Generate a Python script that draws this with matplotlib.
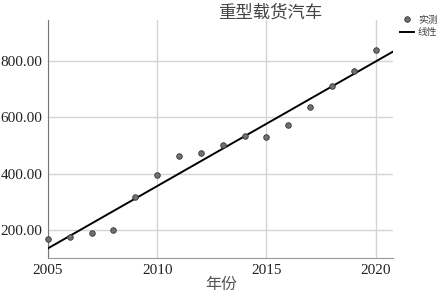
import numpy as np
import matplotlib.pyplot as plt
from matplotlib.lines import Line2D

years = [2005, 2006, 2007, 2008, 2009, 2010, 2011, 2012, 2013, 2014, 2015, 2016, 2017, 2018, 2019, 2020]
values = [168, 175, 189, 200, 317, 395, 462, 472, 501, 533, 530, 571, 635, 710, 763, 840]
xticks = [2005, 2010, 2015, 2020]
yticks = [200, 400, 600, 800]

cjk = ['Noto Sans CJK SC', 'DejaVu Sans']
serif = 'Liberation Serif'

fig = plt.figure(figsize=(4.39, 2.96), dpi=100)
ax = fig.add_axes([0.1093, 0.128, 0.786, 0.804])

x = np.array(years, dtype=float)
y = np.array(values, dtype=float)
k, b = np.polyfit(x, y, 1)
xl = np.array([2004.5, 2021.0])
ax.plot(xl, k * xl + b, color='black', lw=1.4, zorder=3)
ax.scatter(x, y, s=16, color='#707070', edgecolor='#333333', linewidth=0.6, zorder=4, clip_on=False)

ax.set_xlim(2005, 2020.8)
ax.set_ylim(100, 945)
ax.set_xticks(xticks)
ax.set_yticks(yticks)
ax.set_yticklabels(['%.2f' % v for v in yticks])
for lab in ax.get_xticklabels() + ax.get_yticklabels():
    lab.set_fontfamily(serif)
    lab.set_fontsize(11)
    lab.set_color('#222222')
ax.tick_params(length=0, pad=4)
ax.grid(True, color='#d4d4d4', lw=1.0)
ax.set_axisbelow(True)
for s in ['top', 'right']:
    ax.spines[s].set_visible(False)
ax.spines['left'].set_color('#777777')
ax.spines['bottom'].set_color('#999999')

fig.text(0.615, 0.958, '重型载货汽车', family=cjk, fontsize=12.5, color='#444444', ha='center', va='center')
fig.text(0.503, 0.04, '年份', family=cjk, fontsize=11.5, color='#555555', ha='center', va='center')

handles = [Line2D([], [], ls='none', marker='o', markersize=4, markerfacecolor='#707070', markeredgecolor='#333333', markeredgewidth=0.6),
           Line2D([], [], color='black', lw=1.4)]
leg = fig.legend(handles, ['实测', '线性'], loc='upper left', bbox_to_anchor=(0.912, 0.95),
                 frameon=False, prop={'family': cjk, 'size': 7}, handlelength=1.4,
                 handletextpad=0.4, labelspacing=0.25, borderaxespad=0, borderpad=0)
for t in leg.get_texts():
    t.set_color('#444444')

fig.savefig('out.png', dpi=100)
